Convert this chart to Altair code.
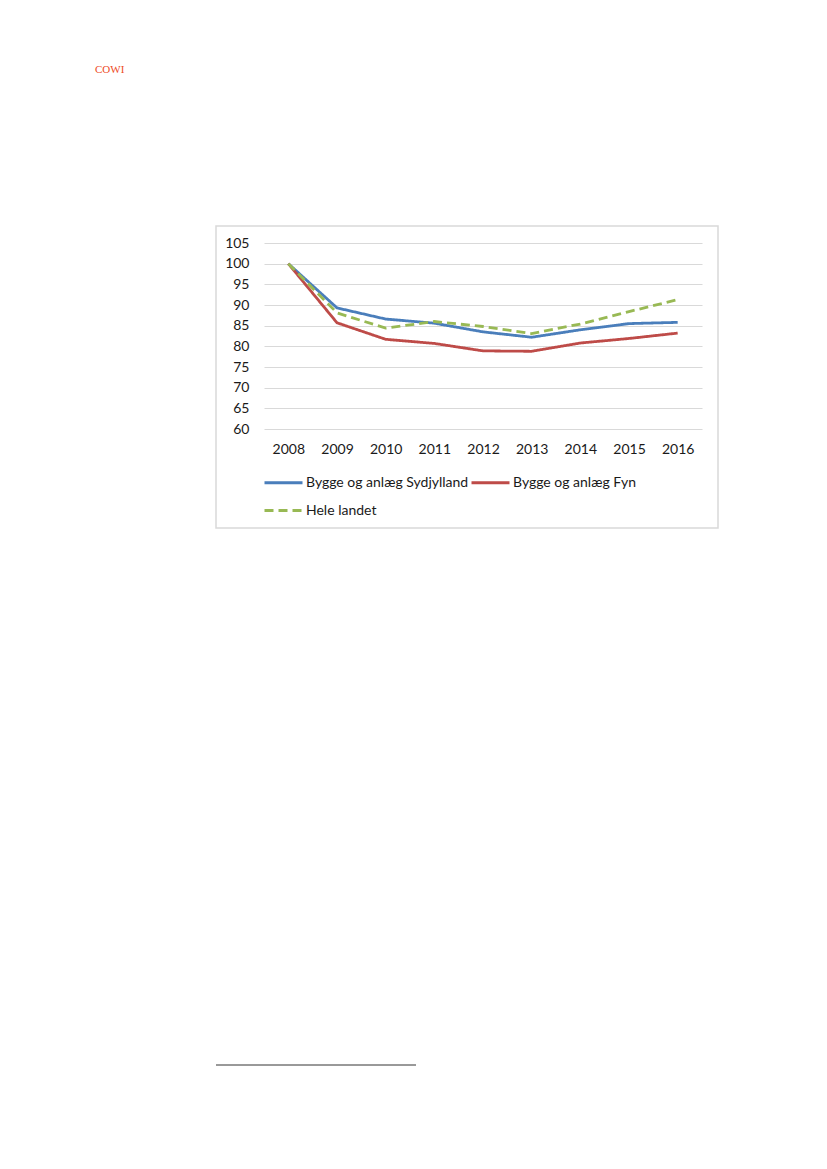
import altair as alt
import pandas as pd

years = ["2008", "2009", "2010", "2011", "2012", "2013", "2014", "2015", "2016"]
syd = [100, 89.3, 86.6, 85.6, 83.5, 82.2, 84.0, 85.5, 85.8]
fyn = [100, 85.7, 81.7, 80.7, 78.9, 78.8, 80.8, 81.9, 83.2]
hele = [100, 88.1, 84.4, 86.0, 84.8, 83.1, 85.4, 88.4, 91.3]
series_names = ["Bygge og anlæg Sydjylland", "Bygge og anlæg Fyn", "Hele landet"]
colors = ["#4A7EBB", "#BE4B48", "#98B954"]
dashes = [[1, 0], [1, 0], [9, 5]]
y_ticks = [60, 65, 70, 75, 80, 85, 90, 95, 100, 105]

rows = []
for name, vals in zip(series_names, [syd, fyn, hele]):
    for yr, v in zip(years, vals):
        rows.append({"year": yr, "value": v, "series": name})
df = pd.DataFrame(rows)

FONT = "Lato"
TXT = "#1a1a1a"
W, H = 438, 186

legend = alt.Legend(
    title=None, orient="none", legendX=-1, legendY=219, columns=2,
    direction="horizontal",
    symbolType="stroke", symbolSize=1444, symbolStrokeWidth=3,
    labelFont=FONT, labelFontSize=14, labelColor=TXT, labelOffset=2,
    columnPadding=-4, rowPadding=-7, labelLimit=400,
)

lines = alt.Chart(df).mark_line(strokeWidth=2.8).encode(
    x=alt.X("year:O", title=None, sort=years,
            axis=alt.Axis(labelAngle=0, ticks=False, tickSize=0, domain=False,
                          labelPadding=13, grid=False)),
    y=alt.Y("value:Q", title=None,
            scale=alt.Scale(domain=[60, 105], nice=False, zero=False),
            axis=alt.Axis(values=y_ticks, ticks=False, tickSize=0, domain=False,
                          labelPadding=15, grid=True, gridColor="#d9d9d9",
                          gridWidth=1)),
    color=alt.Color("series:N", scale=alt.Scale(domain=series_names, range=colors),
                    legend=legend),
    strokeDash=alt.StrokeDash("series:N", scale=alt.Scale(domain=series_names, range=dashes),
                              legend=legend),
)

frame_df = pd.DataFrame({"k": [0]})
frame = alt.Chart(frame_df).mark_rect(filled=False, stroke="#d9d9d9", strokeWidth=1.5).encode(
    x=alt.value(-48), x2=alt.value(454), y=alt.value(-17), y2=alt.value(285)
)

logo = alt.Chart(frame_df).mark_text(
    text="COWI", font="Liberation Serif", fontSize=11, color="#EE4B1F", align="left",
    baseline="middle"
).encode(x=alt.value(-169), y=alt.value(-173))

footrule = alt.Chart(frame_df).mark_rule(color="#000000", strokeWidth=0.8).encode(
    x=alt.value(-48), x2=alt.value(152), y=alt.value(822)
)

chart = alt.layer(frame, lines, logo, footrule).properties(
    width=W, height=H,
    padding={"left": 264, "top": 243, "right": 125, "bottom": 740},
    autosize=alt.AutoSizeParams(type="none"),
    background="white",
).configure_view(stroke=None).configure_axis(
    labelFont=FONT, labelFontSize=14, labelColor=TXT
)

chart.save("out.html", embed_options={"renderer": "svg", "actions": False})
